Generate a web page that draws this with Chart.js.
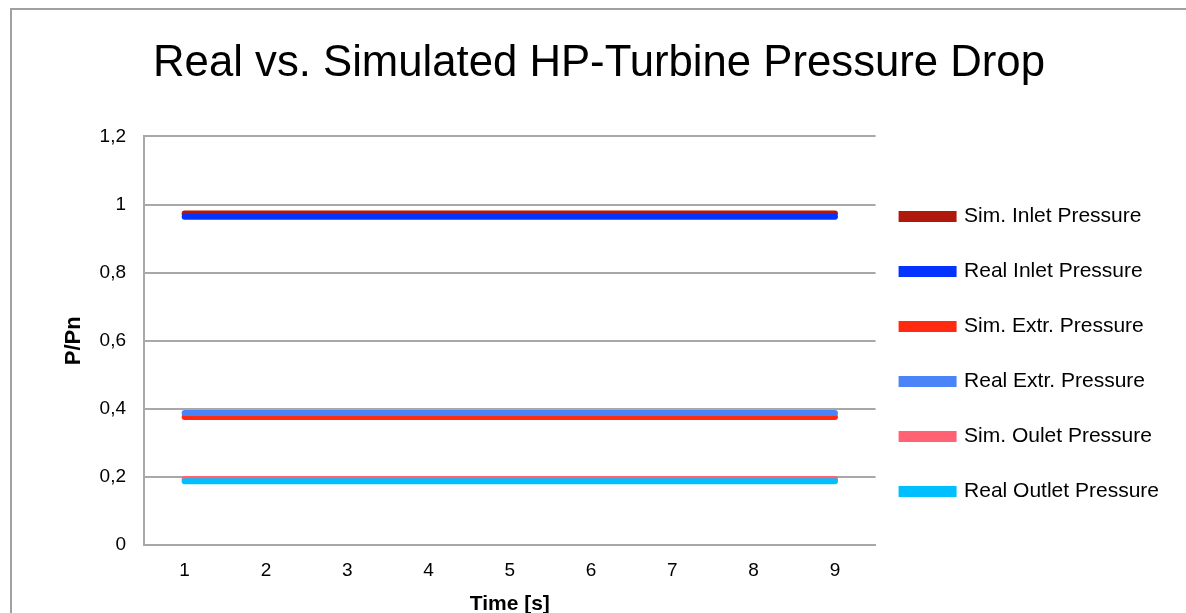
<!DOCTYPE html>
<html>
<head>
<meta charset="utf-8">
<script src="https://cdn.jsdelivr.net/npm/chart.js@4/dist/chart.umd.min.js"></script>
<style>
  html, body { margin: 0; padding: 0; background: #fff; }
  #wrap { position: relative; width: 1186px; height: 613px; overflow: hidden; }
  #frame { position: absolute; left: 10px; top: 8px; width: 1300px; height: 700px; border: 2px solid #a0a0a0; box-sizing: border-box; }
  canvas { position: absolute; left: 0; top: 0; }
</style>
</head>
<body>
<div id="wrap">
  <div id="frame"></div>
  <canvas id="myChart" width="1186" height="613"></canvas>
</div>
<script>
// time steps
var timeLabels = ['1', '2', '3', '4', '5', '6', '7', '8', '9'];
var seriesNames = ['Sim. Inlet Pressure', 'Real Inlet Pressure', 'Sim. Extr. Pressure',
  'Real Extr. Pressure', 'Sim. Oulet Pressure', 'Real Outlet Pressure'];
var seriesColors = ['#b0180c', '#0433ff', '#ff2a10', '#4a84f7', '#ff6272', '#00bfff'];

var simInlet = [0.974, 0.974, 0.974, 0.974, 0.974, 0.974, 0.974, 0.974, 0.974];
var realInlet = [0.964, 0.964, 0.964, 0.964, 0.964, 0.964, 0.964, 0.964, 0.964];
var simExtr = [0.376, 0.376, 0.376, 0.376, 0.376, 0.376, 0.376, 0.376, 0.376];
var realExtr = [0.388, 0.388, 0.388, 0.388, 0.388, 0.388, 0.388, 0.388, 0.388];
var simOutlet = [0.194, 0.194, 0.194, 0.194, 0.194, 0.194, 0.194, 0.194, 0.194];
var realOutlet = [0.187, 0.187, 0.187, 0.187, 0.187, 0.187, 0.187, 0.187, 0.187];
var allSeries = [simInlet, realInlet, simExtr, realExtr, simOutlet, realOutlet];

var fontName = '"Liberation Sans", Arial, Helvetica, sans-serif';

var datasets = [];
for (var i = 0; i < allSeries.length; i++) {
  datasets.push({
    label: seriesNames[i],
    data: allSeries[i],
    borderColor: seriesColors[i],
    backgroundColor: seriesColors[i],
    borderWidth: 6,
    borderCapStyle: 'round',
    pointRadius: 0,
    fill: false,
    // real series sit on top of the simulated ones
    order: i % 2 == 0 ? 1 : 0
  });
}

// nudge the legend block so it sits like the original
var legendShift = {
  id: 'legendShift',
  afterLayout: function (chart) {
    var lg = chart.legend;
    var dx = -8, dy = 172;
    lg.left += dx; lg.right += dx;
    lg.top += dy; lg.bottom += dy;
  }
};

var ctx = document.getElementById('myChart').getContext('2d');
var myChart = new Chart(ctx, {
  type: 'line',
  data: {
    labels: timeLabels,
    datasets: datasets
  },
  plugins: [legendShift],
  options: {
    responsive: false,
    animation: false,
    layout: { padding: { left: 21, right: 9, top: 0, bottom: 0 } },
    plugins: {
      title: {
        display: true,
        text: 'Real vs. Simulated HP-Turbine Pressure Drop',
        color: '#000',
        font: { family: fontName, size: 43.7, weight: 'normal' },
        padding: { top: 38, bottom: 46 }
      },
      legend: {
        position: 'right',
        align: 'start',
        maxWidth: 400,
        labels: {
          color: '#000',
          font: { family: fontName, size: 21 },
          boxWidth: 52,
          boxHeight: 5,
          padding: 34,
          sort: function (a, b) { return a.datasetIndex - b.datasetIndex; }
        }
      },
      tooltip: { enabled: false }
    },
    scales: {
      x: {
        offset: true,
        afterFit: function (scale) { scale.height = 68; },
        grid: { display: false, drawTicks: false },
        border: { color: '#a8a8a8', width: 2 },
        ticks: { color: '#000', font: { family: fontName, size: 19 }, padding: 14 },
        title: {
          display: true,
          text: 'Time [s]',
          color: '#000',
          font: { family: fontName, size: 21, weight: 'bold' },
          padding: { top: 0, bottom: -4 }
        }
      },
      y: {
        min: 0,
        max: 1.2,
        afterFit: function (scale) { scale.width = 123; },
        grid: { color: '#a8a8a8', lineWidth: 2, drawTicks: false },
        border: { color: '#a8a8a8', width: 2 },
        ticks: {
          stepSize: 0.2,
          color: '#000',
          font: { family: fontName, size: 19 },
          padding: 18,
          callback: function (v) { return String(Math.round(v * 10) / 10).replace('.', ','); }
        },
        title: {
          display: true,
          text: 'P/Pn',
          color: '#000',
          font: { family: fontName, size: 22, weight: 'bold' },
          padding: { top: 40, bottom: 0 }
        }
      }
    }
  }
});
</script>
</body>
</html>
